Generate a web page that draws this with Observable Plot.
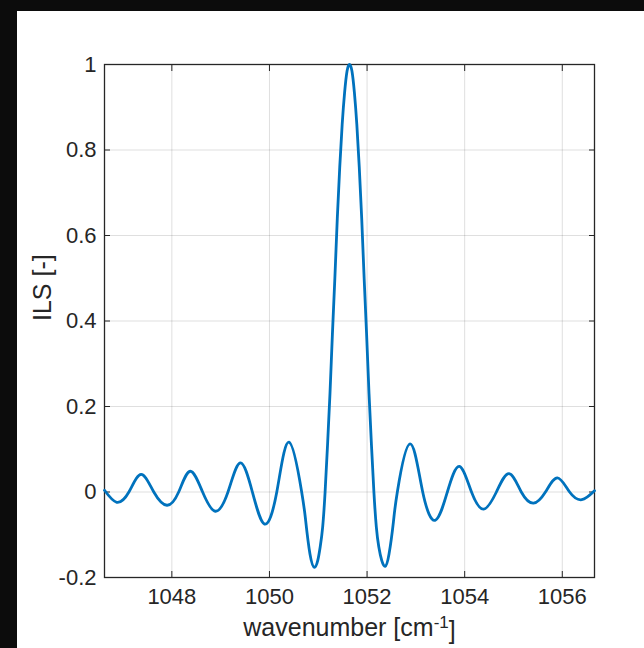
<!DOCTYPE html>
<html>
<head>
<meta charset="utf-8">
<script src="https://cdn.jsdelivr.net/npm/d3@7"></script>
<script src="https://cdn.jsdelivr.net/npm/@observablehq/plot@0.6"></script>
<style>
  html, body { margin: 0; padding: 0; background: #0c0c0c; width: 644px; height: 648px; overflow: hidden; }
  #chart { position: absolute; left: 17px; top: 11px; width: 627px; height: 637px; background: #ffffff; }
</style>
</head>
<body>
<div id="chart"></div>
<script>
// Values (wavenumber in cm^-1, ILS dimensionless)
const wavenumber = [
  1046.62, 1046.87, 1047.12, 1047.37, 1047.63, 1047.90, 1048.14, 1048.375, 1048.63, 1048.89,
  1049.15, 1049.40, 1049.65, 1049.90, 1050.15, 1050.40, 1050.66,
  1050.74, 1050.83, 1050.92, 1050.99, 1051.04, 1051.09,
  1051.14, 1051.19, 1051.24, 1051.29, 1051.34, 1051.39, 1051.44, 1051.49, 1051.54, 1051.59,
  1051.64,
  1051.69, 1051.74, 1051.79, 1051.84, 1051.89, 1051.94, 1051.99, 1052.04, 1052.09, 1052.14,
  1052.19, 1052.24, 1052.30, 1052.37, 1052.45, 1052.54,
  1052.62, 1052.88, 1053.14, 1053.40, 1053.645, 1053.89, 1054.14, 1054.39,
  1054.65, 1054.91, 1055.16, 1055.41, 1055.655, 1055.90, 1056.15, 1056.40, 1056.66
];
const ils = [
  0.004, -0.024, 0.0, 0.041, 0.0, -0.031, 0.0, 0.0485, 0.0, -0.045,
  0.0, 0.068, 0.0, -0.075, 0.0, 0.1165, 0.0,
  -0.065, -0.145, -0.176, -0.16, -0.128, -0.082,
  0.0, 0.11, 0.23, 0.37, 0.50, 0.64, 0.76, 0.86, 0.935, 0.985,
  1.0,
  0.985, 0.935, 0.86, 0.76, 0.64, 0.50, 0.37, 0.23, 0.11, 0.0,
  -0.082, -0.128, -0.16, -0.174, -0.145, -0.07,
  0.0, 0.1125, 0.0, -0.066, 0.0, 0.060, 0.0, -0.040,
  0.0, 0.043, 0.0, -0.026, 0.0, 0.033, 0.0, -0.018, 0.003
];
const xTicks = [1048, 1050, 1052, 1054, 1056];
const yTicks = [-0.2, 0, 0.2, 0.4, 0.6, 0.8, 1];
const xLabel = "wavenumber [cm";
const xLabelSup = "-1";
const yLabel = "ILS [-]";

const points = wavenumber.map((nu, i) => ({nu, v: ils[i]}));
const ink = "#262626";
const font = "'Liberation Sans', Arial, Helvetica, sans-serif";

const chart = Plot.plot({
  width: 627,
  height: 637,
  marginLeft: 87,
  marginRight: 50,
  marginTop: 53,
  marginBottom: 71,
  style: {background: "transparent", color: ink, fontFamily: font},
  x: {domain: [1046.62, 1056.66], axis: null},
  y: {domain: [-0.2, 1], axis: null},
  marks: [
    Plot.gridX(xTicks, {stroke: ink, strokeOpacity: 0.15, strokeWidth: 1}),
    Plot.gridY(yTicks, {stroke: ink, strokeOpacity: 0.15, strokeWidth: 1}),
    Plot.frame({stroke: ink, strokeWidth: 1.3}),
    // inward ticks on all four sides
    Plot.axisX({anchor: "bottom", ticks: xTicks, tickSize: 6, dy: -6, tickFormat: () => "", label: null}),
    Plot.axisX({anchor: "top", ticks: xTicks, tickSize: 6, dy: 6, tickFormat: () => "", label: null}),
    Plot.axisY({anchor: "left", ticks: yTicks, tickSize: 6, dx: 6, tickFormat: () => "", label: null}),
    Plot.axisY({anchor: "right", ticks: yTicks, tickSize: 6, dx: -6, tickFormat: () => "", label: null}),
    // tick labels
    Plot.axisX({anchor: "bottom", ticks: xTicks, tickSize: 0, tickPadding: 11, fontSize: 22, label: null, tickFormat: d => String(d)}),
    Plot.axisY({anchor: "left", ticks: yTicks, tickSize: 0, tickPadding: 8, fontSize: 22, label: null, tickFormat: d => String(+d.toFixed(1))}),
    // axis titles
    Plot.text([xLabel], {frameAnchor: "bottom", dy: 58, lineAnchor: "bottom", fontSize: 25, fill: ink, text: d => d}),
    Plot.text([yLabel], {frameAnchor: "left", dx: -54, rotate: -90, lineAnchor: "bottom", fontSize: 25, fill: ink, text: d => d}),
    // the ILS curve
    Plot.line(points, {x: "nu", y: "v", stroke: "#0072BD", strokeWidth: 2.8, curve: "natural"})
  ]
});
document.getElementById("chart").appendChild(chart);

// add the superscript to the x label
d3.select(chart).selectAll("text").filter(function() { return this.textContent === xLabel; })
  .each(function() {
    const t = d3.select(this);
    t.append("tspan").attr("dy", "-0.45em").attr("font-size", "17px").text(xLabelSup);
    t.append("tspan").attr("dy", "0.45em").text("]");
  });
</script>
</body>
</html>
